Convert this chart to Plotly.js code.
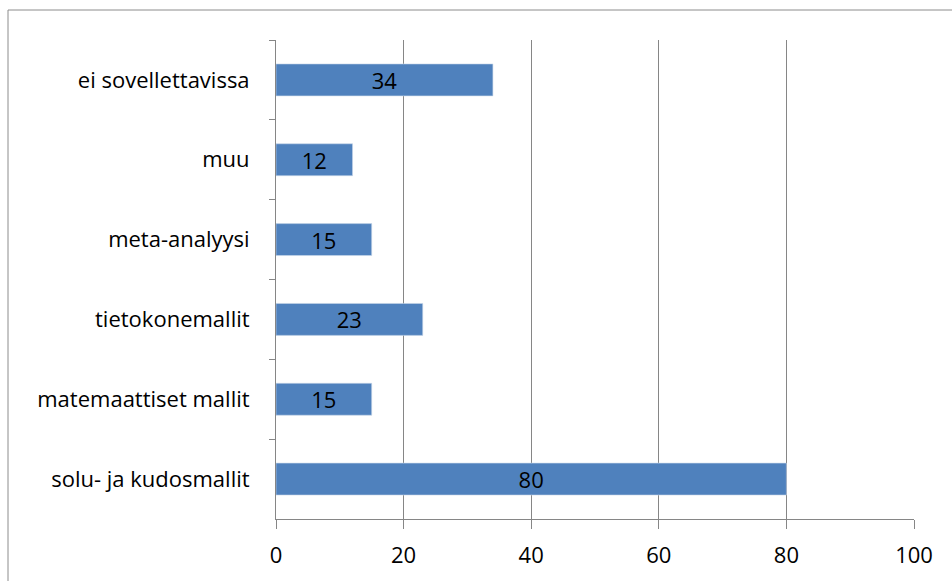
<!DOCTYPE html>
<html>
<head>
<meta charset="utf-8">
<script src="https://cdn.plot.ly/plotly-3.0.1.min.js"></script>
<style>
  html, body { margin: 0; padding: 0; background: #ffffff; }
  #chart { width: 952px; height: 581px; }
</style>
</head>
<body>
<div id="chart"></div>
<script>
// Study model types, listed top to bottom
const categories = [
  "ei sovellettavissa",
  "muu",
  "meta-analyysi",
  "tietokonemallit",
  "matemaattiset mallit",
  "solu- ja kudosmallit"
];
const counts = [34, 12, 15, 23, 15, 80];
const xTicks = [0, 20, 40, 60, 80, 100];

const W = 952, H = 581;
const margin = { l: 276, r: 38, t: 40, b: 62 };
const plotW = W - margin.l - margin.r;
const plotH = H - margin.t - margin.b;
const axisGray = "#868686";
const fontFamily = "'Open Sans', 'Noto Sans', sans-serif";
const fontSize = 22;

const trace = {
  type: "bar",
  orientation: "h",
  y: categories,
  x: counts,
  text: counts.map(String),
  textposition: "inside",
  insidetextanchor: "middle",
  constraintext: "none",
  textangle: 0,
  textfont: { family: fontFamily, size: fontSize, color: "#000000" },
  marker: { color: "#4F81BD", line: { color: "#c9d6ea", width: 0.6 } },
  hoverinfo: "none"
};

// outer chart frame, expressed in paper units relative to the plot area
const frameLeft = (8 - margin.l) / plotW;
const frameTop = 1 + (margin.t - 10) / plotH;

const layout = {
  width: W,
  height: H,
  margin: margin,
  paper_bgcolor: "#ffffff",
  plot_bgcolor: "#ffffff",
  showlegend: false,
  bargap: 0.6,
  font: { family: fontFamily, size: fontSize, color: "#000000" },
  xaxis: {
    range: [0, 100],
    tickvals: xTicks,
    ticktext: xTicks.map(String),
    showgrid: true,
    gridcolor: axisGray,
    gridwidth: 1,
    showline: true,
    linecolor: axisGray,
    linewidth: 1,
    ticks: "outside",
    ticklen: 9,
    tickcolor: axisGray,
    ticklabelstandoff: 8,
    zeroline: false,
    fixedrange: true
  },
  yaxis: {
    type: "category",
    autorange: "reversed",
    showgrid: false,
    showline: true,
    linecolor: axisGray,
    linewidth: 1,
    ticks: "outside",
    tickson: "boundaries",
    ticklen: 6,
    tickcolor: axisGray,
    ticklabelstandoff: 21,
    zeroline: false,
    fixedrange: true
  },
  shapes: [{
    type: "rect",
    xref: "paper", yref: "paper",
    x0: frameLeft, x1: 1.2,
    y0: -0.3, y1: frameTop,
    line: { color: "#8c8c8c", width: 1 },
    fillcolor: "rgba(0,0,0,0)",
    layer: "below"
  }]
};

Plotly.newPlot("chart", [trace], layout, { displayModeBar: false, staticPlot: true });
</script>
</body>
</html>
